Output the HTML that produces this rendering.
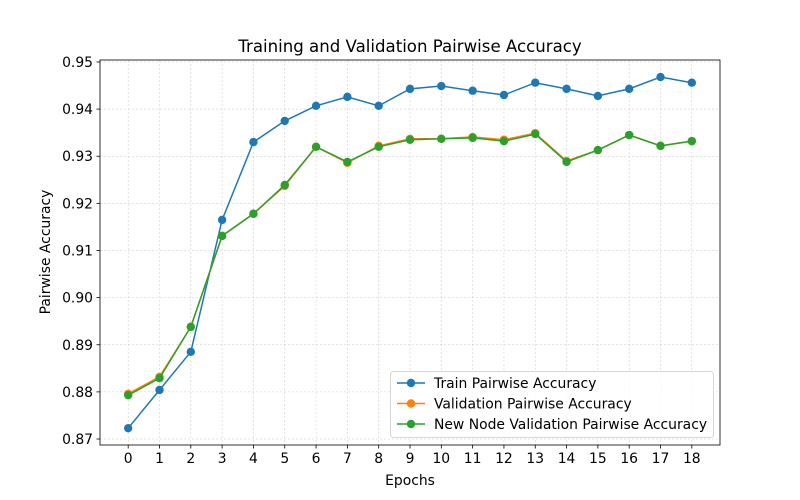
<!DOCTYPE html>
<html><head><meta charset="utf-8"><style>
body{margin:0;background:#fff}
svg{display:block;font-family:"DejaVu Sans","Liberation Sans",sans-serif}
</style></head><body>
<svg id="chart" width="800" height="500" viewBox="0 0 800 500">
<rect width="800" height="500" fill="#fff"/>
<g id="grid"></g>
<g id="xticks"></g>
<g id="yticks"></g>
<g id="series"></g>
<rect x="100" y="60" width="620" height="385" fill="none" stroke="#000" stroke-width="0.8"/>
<text x="410" y="52" text-anchor="middle" font-size="16.6">Training and Validation Pairwise Accuracy</text>
<text x="410" y="485" text-anchor="middle" font-size="13.9">Epochs</text>
<text transform="translate(50,252) rotate(-90)" text-anchor="middle" font-size="13.9">Pairwise Accuracy</text>
<g id="legend"></g>
</svg>
<script>
const epochs=[0,1,2,3,4,5,6,7,8,9,10,11,12,13,14,15,16,17,18];
const trainAcc=[0.8723,0.8804,0.8885,0.9165,0.9330,0.9375,0.9407,0.9426,0.9407,0.9443,0.9449,0.9439,0.9430,0.9456,0.9443,0.9428,0.9443,0.9468,0.9456];
const valAcc=[0.8796,0.8832,0.8938,0.9131,0.9178,0.9237,0.9320,0.9286,0.9322,0.9337,0.9337,0.9341,0.9335,0.9349,0.9290,0.9313,0.9345,0.9322,0.9332];
const newNodeAcc=[0.8793,0.8829,0.8938,0.9131,0.9178,0.9239,0.9320,0.9288,0.9320,0.9335,0.9337,0.9339,0.9332,0.9347,0.9288,0.9313,0.9345,0.9322,0.9332];
const yTicks=[0.87,0.88,0.89,0.90,0.91,0.92,0.93,0.94,0.95];
const seriesNames=["Train Pairwise Accuracy","Validation Pairwise Accuracy","New Node Validation Pairwise Accuracy"];
const seriesColors=["#1f77b4","#ff7f0e","#2ca02c"];
const NS="http://www.w3.org/2000/svg";
const X0=100,X1=720,Y0=445,Y1=60,xmin=-0.9,xmax=18.9,ymin=0.86873,ymax=0.95042;
const xs=v=>X0+(v-xmin)/(xmax-xmin)*(X1-X0);
const ys=v=>Y0-(v-ymin)/(ymax-ymin)*(Y0-Y1);
function mk(tag,attrs,parent){const e=document.createElementNS(NS,tag);for(const k in attrs)e.setAttribute(k,attrs[k]);parent.appendChild(e);return e;}
const grid=document.getElementById('grid'),gx=document.getElementById('xticks'),gy=document.getElementById('yticks');
epochs.forEach(e=>{const x=xs(e);
 const g=mk('line',{x1:x,x2:x,y1:Y1,y2:Y0,stroke:'#b0b0b0','stroke-width':0.5,'stroke-dasharray':'2,2',opacity:0.7},grid);
 
 mk('line',{x1:x,x2:x,y1:Y0,y2:Y0+3.5,stroke:'#000','stroke-width':0.8},gx);
 const t=mk('text',{x:x,y:Y0+18,'text-anchor':'middle','font-size':13.9},gx);t.textContent=e;
 });
yTicks.forEach(v=>{const y=ys(v);
 const g=mk('line',{x1:X0,x2:X1,y1:y,y2:y,stroke:'#b0b0b0','stroke-width':0.5,'stroke-dasharray':'2,2',opacity:0.7},grid);
 
 mk('line',{x1:X0-3.5,x2:X0,y1:y,y2:y,stroke:'#000','stroke-width':0.8},gy);
 const t=mk('text',{x:X0-7,y:y+5,'text-anchor':'end','font-size':13.9},gy);t.textContent=v.toFixed(2);
 });
const sg=document.getElementById('series');
[trainAcc,valAcc,newNodeAcc].forEach((data,i)=>{
 const g=mk('g',{},sg);
 
 const p=mk('polyline',{points:data.map((v,j)=>xs(epochs[j])+','+ys(v)).join(' '),fill:'none',stroke:seriesColors[i],'stroke-width':1.5},g);
 
 data.forEach((v,j)=>{const c=mk('circle',{cx:xs(epochs[j]),cy:ys(v),r:4.2,fill:seriesColors[i]},g);
  });
});
const lg=document.getElementById('legend');
mk('rect',{x:390.5,y:371.5,width:323,height:66,rx:3,fill:'#fff','fill-opacity':0.8,stroke:'#ccc','stroke-width':0.8},lg);
seriesNames.forEach((n,i)=>{const y=383+i*20.5;
 const g=mk('g',{},lg);
 
 mk('line',{x1:397,x2:425,y1:y,y2:y,stroke:seriesColors[i],'stroke-width':1.5},g);
 mk('circle',{cx:411,cy:y,r:4.2,fill:seriesColors[i]},g);
 const t=mk('text',{x:434,y:y+5,'font-size':13.9},g);t.textContent=n;});
</script>
</body></html>
